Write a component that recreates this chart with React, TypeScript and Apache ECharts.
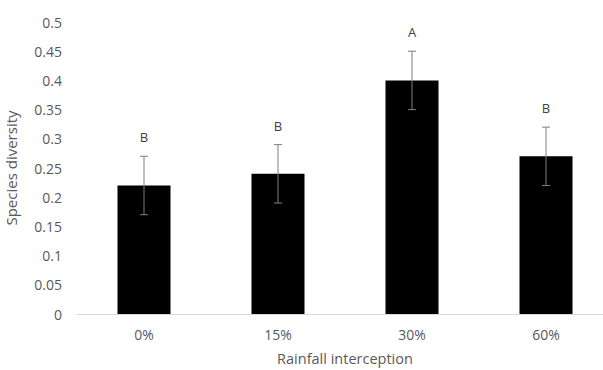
import React, { useEffect, useRef } from "react";
import * as echarts from "echarts";

const categories = ["0%", "15%", "30%", "60%"];
const values = [0.22, 0.24, 0.4, 0.27];
const errors = [0.05, 0.05, 0.05, 0.05];
const letters = ["B", "B", "A", "B"];
const yTicks = { min: 0, max: 0.5, interval: 0.05 };

const FONT = "Open Sans";
const TXT = "#595959";

export default function App() {
  const ref = useRef<HTMLDivElement>(null);
  useEffect(() => {
    const chart = echarts.init(ref.current!, null, { renderer: "svg" });
    const errData = values.map((v, i) => [i, v - errors[i], v + errors[i]]);
    chart.setOption({
      animation: false,
      backgroundColor: "#ffffff",
      grid: {
        left: 77,
        top: 22,
        width: 536,
        height: 292,
        containLabel: false,
        outerBoundsMode: "none",
      },
      xAxis: {
        type: "category",
        data: categories,
        axisLine: { lineStyle: { color: "#d9d9d9", width: 1 } },
        axisTick: { show: false },
        axisLabel: { color: TXT, fontFamily: FONT, fontSize: 14, margin: 13 },
        name: "Rainfall interception",
        nameLocation: "middle",
        nameGap: 37,
        nameTextStyle: { color: TXT, fontFamily: FONT, fontSize: 14.5 },
      },
      yAxis: {
        type: "value",
        min: yTicks.min,
        max: yTicks.max,
        interval: yTicks.interval,
        splitLine: { show: false },
        axisLine: { show: false },
        axisTick: { show: false },
        axisLabel: { color: TXT, fontFamily: FONT, fontSize: 14, margin: 15 },
        name: "Species diversity",
        nameLocation: "middle",
        nameGap: 59,
        nameTextStyle: { color: TXT, fontFamily: FONT, fontSize: 15 },
      },
      series: [
        {
          type: "bar",
          data: values,
          barWidth: 53,
          itemStyle: { color: "#000000" },
        },
        {
          type: "custom",
          data: errData,
          z: 10,
          renderItem: (params: any, api: any) => {
            const i = api.value(0);
            const lo = api.coord([i, api.value(1)]);
            const hi = api.coord([i, api.value(2)]);
            const x = lo[0];
            const cap = 4;
            const st = { stroke: "#7f7f7f", lineWidth: 1 };
            return {
              type: "group",
              children: [
                { type: "line", shape: { x1: x, y1: lo[1], x2: x, y2: hi[1] }, style: st },
                { type: "line", shape: { x1: x - cap, y1: hi[1], x2: x + cap, y2: hi[1] }, style: st },
                { type: "line", shape: { x1: x - cap, y1: lo[1], x2: x + cap, y2: lo[1] }, style: st },
                {
                  type: "text",
                  style: {
                    text: letters[params.dataIndex],
                    x: x,
                    y: hi[1] - 19,
                    fill: "#404040",
                    font: `13px "${FONT}"`,
                    align: "center",
                    verticalAlign: "middle",
                  },
                },
              ],
            };
          },
        },
      ],
    });
    return () => chart.dispose();
  }, []);
  return <div ref={ref} style={{ width: 603, height: 370, position: "absolute", left: 0, top: 0 }} />;
}
